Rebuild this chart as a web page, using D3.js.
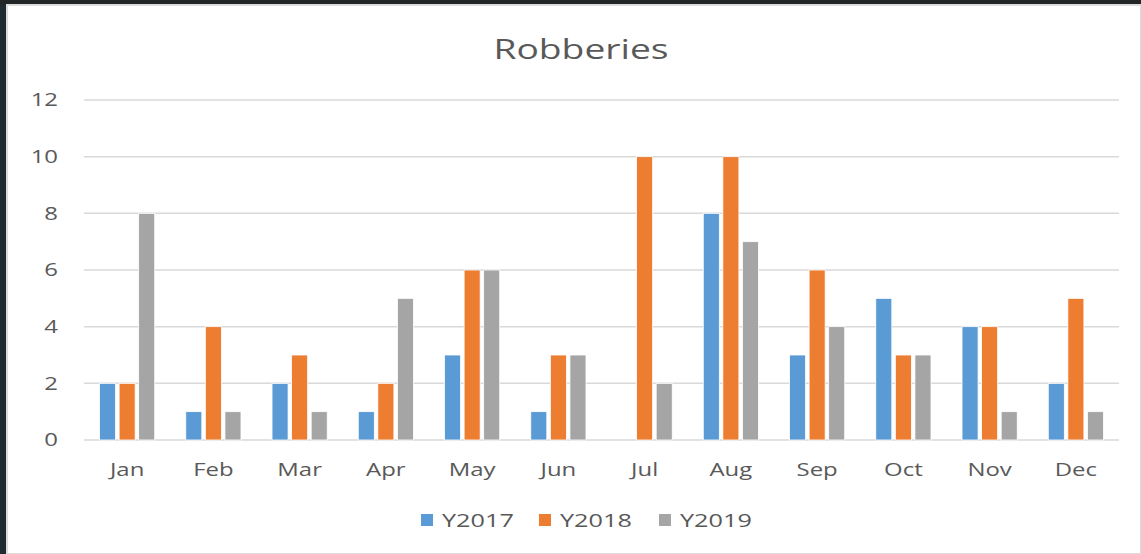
<!DOCTYPE html>
<html>
<head>
<meta charset="utf-8">
<script src="https://cdn.jsdelivr.net/npm/d3@7"></script>
<style>
  body { margin: 0; background: #1e2a2e; }
  svg { display: block; }
</style>
</head>
<body>
<script>
// chart data
var months = ["Jan", "Feb", "Mar", "Apr", "May", "Jun", "Jul", "Aug", "Sep", "Oct", "Nov", "Dec"];
var seriesNames = ["Y2017", "Y2018", "Y2019"];
var y2017 = [2, 1, 2, 1, 3, 1, 0, 8, 3, 5, 4, 2];
var y2018 = [2, 4, 3, 2, 6, 3, 10, 10, 6, 3, 4, 5];
var y2019 = [8, 1, 1, 5, 6, 3, 2, 7, 4, 3, 1, 1];
var yTicks = [0, 2, 4, 6, 8, 10, 12];
var colors = ["#5B9BD5", "#ED7D31", "#A5A5A5"];

var width = 1141, height = 554;
var font = "'Open Sans', 'Noto Sans', sans-serif";
var textColor = "#595959";
var stretch = 1.33; // the screenshot text is stretched sideways

var svg = d3.select("body").append("svg")
    .attr("width", width)
    .attr("height", height);

// dark frame + white chart panel (screenshot look)
svg.append("rect").attr("width", width).attr("height", height).attr("fill", "#1f2b30");
svg.append("rect").attr("x", 0).attr("y", 0).attr("width", width).attr("height", 5).attr("fill", "#222626");
svg.append("rect").attr("x", 7).attr("y", 5).attr("width", width - 7).attr("height", height - 5)
    .attr("fill", "#ffffff").attr("stroke", "#dcdcdc").attr("stroke-width", 2);

var plotLeft = 84, plotRight = 1119, plotTop = 100, plotBottom = 440;

var x0 = d3.scaleBand().domain(months).range([plotLeft, plotRight]).paddingInner(0.36).paddingOuter(0.18);
var x1 = d3.scaleBand().domain(seriesNames).range([0, x0.bandwidth()]).paddingInner(0.18);
var y = d3.scaleLinear().domain([0, 12]).range([plotBottom, plotTop]);

function place(x, yy) {
    return "translate(" + x + "," + yy + ") scale(" + stretch + ",1)";
}

// title
svg.append("text")
    .attr("transform", place(581, 59))
    .attr("text-anchor", "middle")
    .attr("font-family", font)
    .attr("font-size", 28)
    .attr("fill", textColor)
    .text("Robberies");

// gridlines
svg.append("g").selectAll("line")
    .data(yTicks)
    .enter().append("line")
    .attr("x1", plotLeft).attr("x2", plotRight)
    .attr("y1", d => y(d)).attr("y2", d => y(d))
    .attr("stroke", "#d9d9d9")
    .attr("stroke-width", 1.5);

// y labels
svg.append("g").selectAll("text")
    .data(yTicks)
    .enter().append("text")
    .attr("transform", d => place(58, y(d)))
    .attr("dy", "0.35em")
    .attr("text-anchor", "end")
    .attr("font-family", font)
    .attr("font-size", 18)
    .attr("fill", textColor)
    .text(d => d);

// bars
var rows = months.map(function (m, i) {
    return { month: m, values: [y2017[i], y2018[i], y2019[i]] };
});

var groups = svg.append("g").selectAll("g")
    .data(rows)
    .enter().append("g")
    .attr("transform", d => "translate(" + x0(d.month) + ",0)");

groups.selectAll("rect")
    .data(d => d.values.map((v, k) => ({ key: seriesNames[k], value: v, k: k })))
    .enter().append("rect")
    .filter(d => d.value > 0)
    .attr("x", d => x1(d.key))
    .attr("width", x1.bandwidth())
    .attr("y", d => y(d.value))
    .attr("height", d => y(0) - y(d.value))
    .attr("fill", d => colors[d.k])
    .attr("stroke", "#ffffff")
    .attr("stroke-width", 0.8);

// x labels
svg.append("g").selectAll("text")
    .data(months)
    .enter().append("text")
    .attr("transform", d => place(x0(d) + x0.bandwidth() / 2, 476))
    .attr("text-anchor", "middle")
    .attr("font-family", font)
    .attr("font-size", 18)
    .attr("fill", textColor)
    .text(d => d);

// legend
var legendX = [421, 539, 659];
var legend = svg.append("g").selectAll("g")
    .data(seriesNames)
    .enter().append("g")
    .attr("transform", (d, i) => "translate(" + legendX[i] + ",514)");

legend.append("rect")
    .attr("width", 12).attr("height", 12)
    .attr("fill", (d, i) => colors[i]);

legend.append("text")
    .attr("transform", place(21, 6))
    .attr("dy", "0.35em")
    .attr("font-family", font)
    .attr("font-size", 19)
    .attr("fill", textColor)
    .text(d => d);
</script>
</body>
</html>
